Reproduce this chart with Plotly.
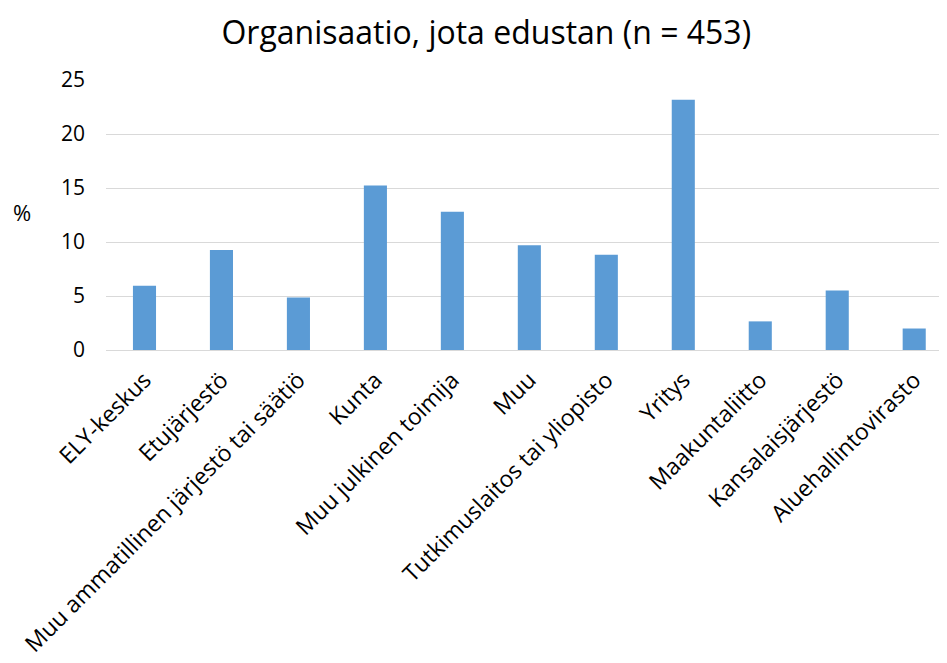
import plotly.graph_objects as go

categories = ["ELY-keskus", "Etujärjestö", "Muu ammatillinen järjestö tai säätiö",
              "Kunta", "Muu julkinen toimija", "Muu", "Tutkimuslaitos tai yliopisto",
              "Yritys", "Maakuntaliitto", "Kansalaisjärjestö", "Aluehallintovirasto"]
values = [5.96, 9.27, 4.86, 15.23, 12.80, 9.71, 8.83, 23.18, 2.65, 5.52, 1.99]
y_ticks = [0, 5, 10, 15, 20, 25]

FONT = "Open Sans"
fig = go.Figure(go.Bar(
    x=categories, y=values, width=0.3,
    marker=dict(color="#5B9BD5", line=dict(width=0)),
))
fig.update_layout(
    width=947, height=663,
    margin=dict(l=98, r=0, t=72, b=321, autoexpand=False),
    paper_bgcolor="white", plot_bgcolor="white",
    title=dict(text="Organisaatio, jota edustan (n = 453)", x=0.505, xanchor="center",
               y=0.962, yanchor="middle", font=dict(family=FONT, size=32, color="#000000")),
    showlegend=False,
    font=dict(family=FONT),
)
fig.update_xaxes(range=[-0.5, 10.53], tickangle=-45, showgrid=False, showline=False,
                 ticks="", automargin=False, ticklabelstandoff=11,
                 tickfont=dict(family=FONT, size=23, color="#000000"))
fig.update_yaxes(range=[0, 25], tickvals=y_ticks, showgrid=True, gridcolor="#D9D9D9",
                 gridwidth=1, zeroline=True, zerolinecolor="#D9D9D9", zerolinewidth=1,
                 ticks="", ticklen=0, automargin=False, ticklabelstandoff=20,
                 tickfont=dict(family=FONT, size=21, color="#000000"))
fig.add_annotation(text="%", xref="paper", yref="paper", x=-0.099, y=0.51,
                   xanchor="center", showarrow=False,
                   font=dict(family=FONT, size=22, color="#000000"))
fig.write_html("out.html")
